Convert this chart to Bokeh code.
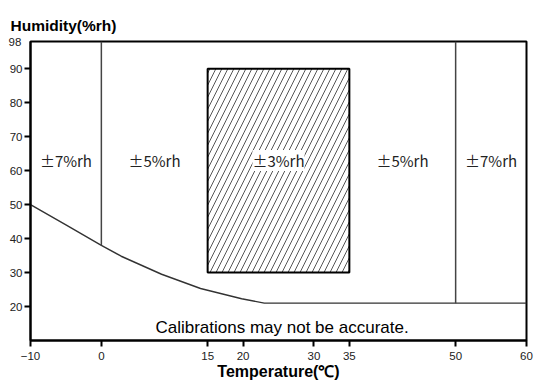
from bokeh.plotting import figure
from bokeh.models import Range1d, FixedTicker, Label, LabelSet, ColumnDataSource, Title
from bokeh.core.properties import value
from bokeh.embed import file_html
from bokeh.resources import INLINE

# ---- data ----
x_ticks = [-10, 0, 15, 20, 30, 35, 50, 60]
y_ticks = [20, 30, 40, 50, 60, 70, 80, 90]
t_min, t_max = -10, 60
rh_min, rh_max = 10, 98

# lower humidity limit curve (temperature, %rh)
curve_t = [-10, -5, 0, 2.8, 8.5, 14, 19.8, 23, 60]
curve_rh = [50, 44, 38, 34.8, 29.5, 25.3, 22.3, 21, 21]

# zone boundaries
bound_t = [0, 50]
bound_rh_low = [38, 21]
bound_rh_high = [98, 98]

# best-accuracy zone
zone_t = [15, 35]
zone_rh = [30, 90]

# accuracy labels
acc_t = [-5, 7.5, 25, 42.5, 55]
acc_rh = [63, 63, 63, 63, 63]
acc_text = ["±7%rh", "±5%rh", "±3%rh", "±5%rh", "±7%rh"]

note_t, note_rh = 25.5, 13.9
note_text = "Calibrations may not be accurate."

p = figure(width=540, height=387, output_backend="svg", toolbar_location=None,
           x_range=Range1d(t_min, t_max), y_range=Range1d(rh_min, rh_max),
           min_border_left=30, min_border_right=14, min_border_top=41, min_border_bottom=47)
p.background_fill_color = "white"
p.border_fill_color = "white"
p.outline_line_color = "black"
p.outline_line_width = 2
p.grid.visible = False

# axes
p.xaxis.ticker = FixedTicker(ticks=x_ticks)
p.yaxis.ticker = FixedTicker(ticks=y_ticks)
for ax in (p.xaxis, p.yaxis):
    ax.axis_line_color = "black"
    ax.axis_line_width = 2
    ax.major_tick_line_color = "black"
    ax.major_tick_line_width = 2
    ax.major_tick_out = 6
    ax.major_tick_in = 0
    ax.minor_tick_line_color = None
    ax.major_label_text_font = "Liberation Sans"
    ax.major_label_text_font_size = "11.5px"
    ax.major_label_text_color = "#222222"
    ax.major_label_standoff = 2
p.xaxis.major_label_standoff = 5
p.xaxis.axis_label = "Temperature(℃)"
p.xaxis.axis_label_text_font = "Liberation Sans"
p.xaxis.axis_label_text_font_style = "bold"
p.xaxis.axis_label_text_font_size = "16px"
p.xaxis.axis_label_text_color = "black"
p.xaxis.axis_label_standoff = 0

# top value of the humidity axis (drawn without tick mark), closest to the frame
p.add_layout(Title(text=str(rh_max), align="left", offset=-22, standoff=-8,
                   text_font="Liberation Sans", text_font_size="11.5px",
                   text_font_style="normal", text_color="#222222"), "above")
p.add_layout(Title(text="Humidity(%rh)", align="left", offset=-20, standoff=11,
                   text_font="Liberation Sans", text_font_size="15.5px",
                   text_font_style="bold", text_color="black"), "above")

# lower limit curve
p.line(curve_t, curve_rh, line_color="#333333", line_width=1.4)
# boundaries
p.segment(x0=bound_t, y0=bound_rh_low, x1=bound_t, y1=bound_rh_high,
          line_color="#444444", line_width=1.5)
# hatched zone
p.quad(left=[zone_t[0]], right=[zone_t[1]], bottom=[zone_rh[0]], top=[zone_rh[1]],
       fill_color="white", line_color="black", line_width=2,
       hatch_pattern="/", hatch_color="#555555", hatch_scale=12, hatch_weight=1)

src = ColumnDataSource(dict(x=acc_t, y=acc_rh, t=acc_text))
p.add_layout(LabelSet(x="x", y="y", text="t", source=src, text_align="center",
                      text_baseline="middle", text_font=value("Noto Sans CJK JP"),
                      text_font_size=value("15px"), text_color="#222222",
                      background_fill_color="white"))

p.add_layout(Label(x=note_t, y=note_rh, text=note_text, text_align="center",
                   text_baseline="alphabetic", text_font="Liberation Sans",
                   text_font_size="17px", text_color="black"))

open("out.html", "w").write(file_html(p, INLINE))
